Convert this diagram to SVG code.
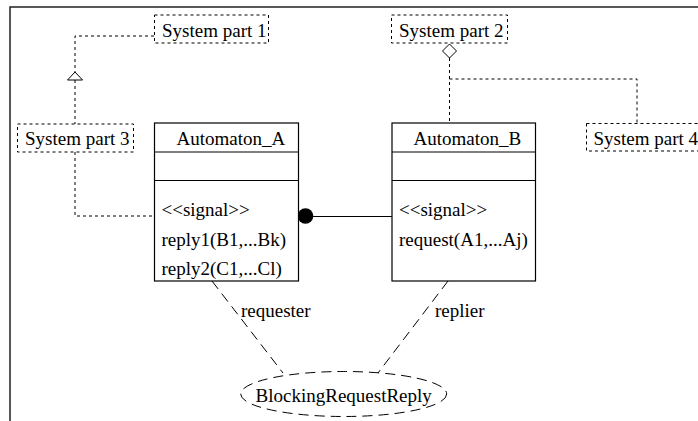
<svg xmlns="http://www.w3.org/2000/svg" width="698" height="421" viewBox="0 0 698 421">
  <style>
    text { font-family: "Liberation Serif", "Times New Roman", serif; font-size: 19px; fill: #000; }
    .frame { fill: none; stroke: #222; stroke-width: 1.5; }
    .cls { fill: #fff; stroke: #000; stroke-width: 1.2; }
    .div { stroke: #000; stroke-width: 1.2; }
    .part { fill: #fff; stroke: #000; stroke-width: 1; stroke-dasharray: 3 3; }
    .dot { fill: none; stroke: #000; stroke-width: 1; stroke-dasharray: 3 3; }
    .dash { fill: none; stroke: #000; stroke-width: 1; stroke-dasharray: 10 6; }
    .solid { fill: none; stroke: #000; stroke-width: 1.2; }
  </style>

  <!-- frame -->
  <path class="frame" d="M10,421 V7 H698"/>

  <g id="connectors">
    <!-- generalization: part 3 -> part 1 -->
    <path class="dot" d="M154,36 H75 V72"/>
    <path class="dot" d="M75,80 V124"/>
    <polygon points="75,72 67.5,80 82.5,80" fill="#fff" stroke="#000" stroke-width="1"/>
    <!-- part 3 -> Automaton_A -->
    <path class="dot" d="M75,152 V216 H154"/>
    <!-- aggregation: part 2 -> Automaton_B / part 4 -->
    <path class="dot" d="M449.5,58 V123"/>
    <path class="dot" d="M449.5,79 H637 V123"/>
    <polygon points="449.5,44 456.5,51 449.5,58 442.5,51" fill="#fff" stroke="#000" stroke-width="1"/>
    <!-- Automaton_A ball - Automaton_B -->
    <line class="solid" x1="313" y1="216.5" x2="392" y2="216.5"/>
    <circle cx="305.5" cy="216" r="7.8" fill="#000"/>
    <!-- collaboration roles -->
    <path class="dash" d="M212,281 L283,373"/>
    <path class="dash" d="M448,281 L378,373"/>
    <text x="241" y="317">requester</text>
    <text x="435" y="317">replier</text>
  </g>

  <g id="system-part-1">
    <rect class="part" x="154.5" y="15" width="114" height="28"/>
    <text x="162" y="37">System part 1</text>
  </g>

  <g id="system-part-2">
    <rect class="part" x="391.5" y="15" width="116" height="28"/>
    <text x="399" y="37">System part 2</text>
  </g>

  <g id="system-part-3">
    <rect class="part" x="17.5" y="124" width="116" height="28"/>
    <text x="25" y="145">System part 3</text>
  </g>

  <g id="system-part-4">
    <rect class="part" x="586.5" y="123.5" width="118" height="27.5"/>
    <text x="593.5" y="145">System part 4</text>
  </g>

  <g id="automaton-a">
    <rect class="cls" x="154.5" y="123" width="144" height="158"/>
    <line class="div" x1="154.5" y1="152" x2="298.5" y2="152"/>
    <line class="div" x1="154.5" y1="180.5" x2="298.5" y2="180.5"/>
    <text x="176.5" y="145">Automaton_A</text>
    <text x="161.5" y="216">&lt;&lt;signal&gt;&gt;</text>
    <text x="161.5" y="245.5">reply1(B1,...Bk)</text>
    <text x="161.5" y="274.5">reply2(C1,...Cl)</text>
  </g>

  <g id="automaton-b">
    <rect class="cls" x="392" y="123" width="143.5" height="158"/>
    <line class="div" x1="392" y1="152" x2="535.5" y2="152"/>
    <line class="div" x1="392" y1="180.5" x2="535.5" y2="180.5"/>
    <text x="413.5" y="145">Automaton_B</text>
    <text x="399" y="216">&lt;&lt;signal&gt;&gt;</text>
    <text x="399" y="245.5">request(A1,...Aj)</text>
  </g>

  <g id="blocking-request-reply">
    <ellipse class="dash" cx="343.7" cy="394" rx="103" ry="22.5"/>
    <text x="343.7" y="401.5" text-anchor="middle">BlockingRequestReply</text>
  </g>
</svg>
